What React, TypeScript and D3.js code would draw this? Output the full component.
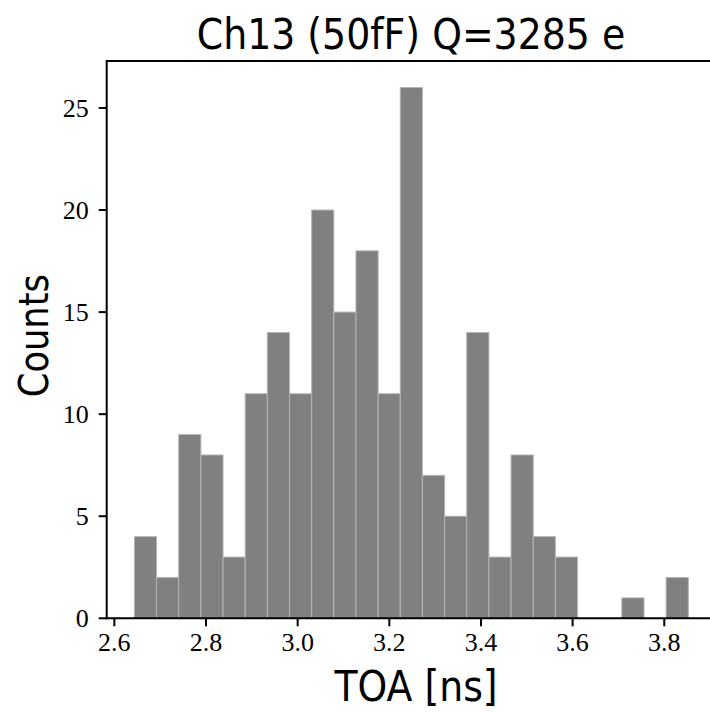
import React from "react";
import * as d3 from "d3";

const counts = [4, 2, 9, 8, 3, 11, 14, 11, 20, 15, 18, 11, 26, 7, 5, 14, 3, 8, 4, 3, 0, 0, 1, 0, 2];
const binStart = 2.6437;
const binWidth = 0.04835;
const xTicks = [2.6, 2.8, 3.0, 3.2, 3.4, 3.6, 3.8];
const yTicks = [0, 5, 10, 15, 20, 25];
const title = "Ch13 (50fF) Q=3285 e";
const xLabel = "TOA [ns]";
const yLabel = "Counts";

const W = 710;
const H = 712;
const left = 106.7;
const right = 716;
const top = 61;
const bottom = 618.3;

export default function App() {
  const xMin = binStart;
  const xMax = binStart + counts.length * binWidth;
  const pad = (xMax - xMin) * 0.05;
  const x = d3.scaleLinear().domain([xMin - pad, xMax + pad]).range([left, right]);
  const yMax = d3.max(counts)! * 1.05;
  const y = d3.scaleLinear().domain([0, yMax]).range([bottom, top]);
  const fmt = d3.format(".1f");
  const serif = "'Liberation Serif', 'Times New Roman', serif";
  const sans = "'DejaVu Sans', sans-serif";
  return (
    <svg width={W} height={H} style={{ position: "absolute", left: 0, top: 0, background: "#fff" }}>
      {counts.map((c, i) => {
        if (c === 0) return null;
        const x0 = x(binStart + i * binWidth);
        const x1 = x(binStart + (i + 1) * binWidth);
        return (
          <rect key={i} x={x0} y={y(c)} width={x1 - x0} height={y(0) - y(c)}
            fill="#808080" stroke="#b4b4b4" strokeWidth={1} />
        );
      })}
      <line x1={left} x2={W} y1={top} y2={top} stroke="#000" strokeWidth={2} />
      <line x1={left} x2={left} y1={top - 1} y2={bottom + 1} stroke="#000" strokeWidth={2} />
      <line x1={left - 1} x2={W} y1={bottom} y2={bottom} stroke="#000" strokeWidth={2} />
      {xTicks.map((t) => (
        <g key={t}>
          <line x1={x(t)} x2={x(t)} y1={bottom} y2={bottom + 8} stroke="#000" strokeWidth={2} />
          <text x={x(t)} y={bottom + 33} textAnchor="middle" fontFamily={serif} fontSize={26} fill="#000">{fmt(t)}</text>
        </g>
      ))}
      {yTicks.map((t) => (
        <g key={t}>
          <line x1={left - 8} x2={left} y1={y(t)} y2={y(t)} stroke="#000" strokeWidth={2} />
          <text x={left - 18} y={y(t)} dy="0.35em" textAnchor="end" fontFamily={serif} fontSize={26} fill="#000">{t}</text>
        </g>
      ))}
      <g transform="translate(411, 49) scale(0.88, 1)">
        <text x={0} y={0} textAnchor="middle" fontFamily={sans} fontSize={43} fill="#000">{title}</text>
      </g>
      <g transform="translate(416, 701) scale(0.9, 1)">
        <text x={0} y={0} textAnchor="middle" fontFamily={sans} fontSize={42} fill="#000">{xLabel}</text>
      </g>
      <g transform={`translate(48, ${(top + bottom) / 2 - 4}) rotate(-90) scale(0.86, 1)`}>
        <text x={0} y={0} textAnchor="middle" fontFamily={sans} fontSize={41} fill="#000">{yLabel}</text>
      </g>
    </svg>
  );
}
